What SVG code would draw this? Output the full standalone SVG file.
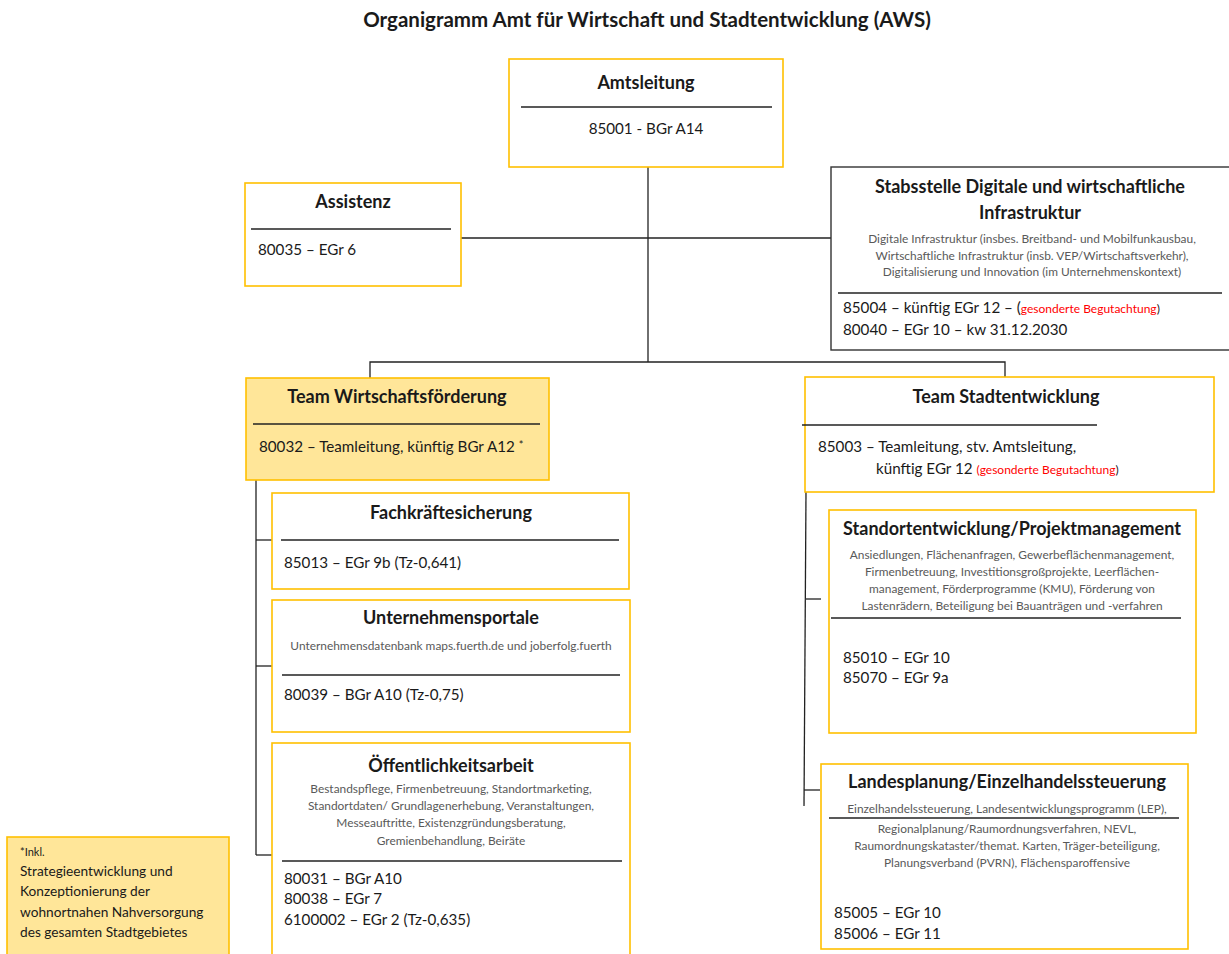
<svg xmlns="http://www.w3.org/2000/svg" width="1229" height="954" viewBox="0 0 1229 954">
<style>
text{font-family:Lato,"Open Sans","Liberation Sans",sans-serif;fill:#1a1a1a}
.ttl{font-size:20.5px;font-weight:bold;text-anchor:middle}
.hd{font-size:18px;font-weight:bold;text-anchor:middle}
.bd{font-size:15.2px}
.sm{font-size:11.9px;fill:#595959;text-anchor:middle}
.red{fill:#ff0000;font-size:12px}
.box{fill:#fff;stroke:#ffc000;stroke-width:1.6}
.boxf{fill:#ffe699;stroke:#ffc000;stroke-width:1.6}
.boxd{fill:#fff;stroke:#333;stroke-width:1.4}
.sep{stroke:#222;stroke-width:1.3}
.con{stroke:#222;stroke-width:1.3;fill:none}
</style>
<rect width="1229" height="954" fill="#fff"/>
<text class="ttl" x="647" y="27">Organigramm Amt für Wirtschaft und Stadtentwicklung (AWS)</text>

<g id="connectors">
<line class="con" x1="648" y1="167" x2="648" y2="362"/>
<line class="con" x1="461" y1="238" x2="831" y2="238"/>
<polyline class="con" points="370,378 370,362 1005,362 1005,377"/>
<line class="con" x1="256" y1="478" x2="256" y2="855"/>
<line class="con" x1="256" y1="540" x2="272" y2="540"/>
<line class="con" x1="256" y1="666" x2="272" y2="666"/>
<line class="con" x1="256" y1="855" x2="272" y2="855"/>
<line class="con" x1="806" y1="492" x2="804" y2="806"/>
<line class="con" x1="806" y1="599" x2="821" y2="599"/>
<line class="con" x1="804" y1="790" x2="820" y2="790"/>
</g>

<g id="amtsleitung">
<rect class="box" x="509" y="59" width="274" height="108"/>
<text class="hd" x="646" y="89" font-size="21">Amtsleitung</text>
<line class="sep" x1="521" y1="107" x2="772" y2="107"/>
<text class="bd" x="646" y="134" text-anchor="middle" font-size="17.5">85001 - BGr A14</text>
</g>

<g id="assistenz">
<rect class="box" x="245" y="183" width="216" height="103"/>
<text class="hd" x="353" y="208">Assistenz</text>
<line class="sep" x1="251" y1="229" x2="451" y2="229"/>
<text class="bd" x="258" y="255">80035 – EGr 6</text>
</g>

<g id="stabsstelle">
<rect class="boxd" x="831" y="167" width="402" height="183"/>
<text class="hd" x="1030" y="193">Stabsstelle Digitale und wirtschaftliche</text>
<text class="hd" x="1030" y="219">Infrastruktur</text>
<text class="sm" x="1032" y="243">Digitale Infrastruktur (insbes. Breitband- und Mobilfunkausbau,</text>
<text class="sm" x="1032" y="260">Wirtschaftliche Infrastruktur (insb. VEP/Wirtschaftsverkehr),</text>
<text class="sm" x="1032" y="276">Digitalisierung und Innovation (im Unternehmenskontext)</text>
<line class="sep" x1="838" y1="293" x2="1222" y2="293"/>
<text class="bd" x="843" y="313">85004 – künftig EGr 12 – (<tspan class="red">gesonderte Begutachtung</tspan><tspan font-size="12">)</tspan></text>
<text class="bd" x="843" y="335">80040 – EGr 10 – kw 31.12.2030</text>
</g>

<g id="team-wf">
<rect class="boxf" x="246" y="378" width="303" height="102"/>
<text class="hd" x="397" y="403" font-size="19.5">Team Wirtschaftsförderung</text>
<line class="sep" x1="253" y1="424" x2="540" y2="424"/>
<text class="bd" x="259" y="452">80032 – Teamleitung, künftig BGr A12 <tspan font-size="11" dy="-3">*</tspan></text>
</g>

<g id="fachkraefte">
<rect class="box" x="272" y="493" width="357" height="96"/>
<text class="hd" x="451" y="519">Fachkräftesicherung</text>
<line class="sep" x1="281" y1="540" x2="619" y2="540"/>
<text class="bd" x="284" y="568">85013 – EGr 9b (Tz-0,641)</text>
</g>

<g id="unternehmensportale">
<rect class="box" x="272" y="600" width="358" height="132"/>
<text class="hd" x="451" y="624">Unternehmensportale</text>
<text class="sm" x="451" y="650">Unternehmensdatenbank maps.fuerth.de und joberfolg.fuerth</text>
<line class="sep" x1="282" y1="675" x2="620" y2="675"/>
<text class="bd" x="284" y="700">80039 – BGr A10 (Tz-0,75)</text>
</g>

<g id="oeffentlichkeitsarbeit">
<rect class="box" x="272" y="743" width="358" height="215"/>
<text class="hd" x="451" y="772">Öffentlichkeitsarbeit</text>
<text class="sm" x="451" y="793">Bestandspflege, Firmenbetreuung, Standortmarketing,</text>
<text class="sm" x="451" y="810">Standortdaten/ Grundlagenerhebung, Veranstaltungen,</text>
<text class="sm" x="451" y="827">Messeauftritte, Existenzgründungsberatung,</text>
<text class="sm" x="451" y="845">Gremienbehandlung, Beiräte</text>
<line class="sep" x1="282" y1="861" x2="622" y2="861"/>
<text class="bd" x="284" y="884">80031 – BGr A10</text>
<text class="bd" x="284" y="904">80038 – EGr 7</text>
<text class="bd" x="284" y="925">6100002 – EGr 2 (Tz-0,635)</text>
</g>

<g id="fussnote">
<rect class="boxf" x="7" y="837" width="222" height="122"/>
<text x="20" y="856" font-size="11" fill="#595959">*Inkl.</text>
<text x="20" y="876" font-size="13.7">Strategieentwicklung und</text>
<text x="20" y="896" font-size="13.7">Konzeptionierung der</text>
<text x="20" y="917" font-size="13.7">wohnortnahen Nahversorgung</text>
<text x="20" y="937" font-size="13.7">des gesamten Stadtgebietes</text>
</g>

<g id="team-se">
<rect class="box" x="805" y="377" width="409" height="115"/>
<text class="hd" x="1006" y="403" font-size="19">Team Stadtentwicklung</text>
<line class="sep" x1="802" y1="425" x2="1097" y2="425"/>
<text class="bd" x="818" y="452">85003 – Teamleitung, stv. Amtsleitung,</text>
<text class="bd" x="876" y="474">künftig EGr 12 <tspan class="red">(gesonderte Begutachtung</tspan><tspan font-size="12">)</tspan></text>
</g>

<g id="standortentwicklung">
<rect class="box" x="829" y="510" width="367" height="223"/>
<text class="hd" x="1012" y="535" font-size="18.5">Standortentwicklung/Projektmanagement</text>
<text class="sm" x="1012" y="559">Ansiedlungen, Flächenanfragen, Gewerbeflächenmanagement,</text>
<text class="sm" x="1012" y="576">Firmenbetreuung, Investitionsgroßprojekte, Leerflächen-</text>
<text class="sm" x="1012" y="593">management, Förderprogramme (KMU), Förderung von</text>
<text class="sm" x="1012" y="610">Lastenrädern, Beteiligung bei Bauanträgen und -verfahren</text>
<line class="sep" x1="831" y1="618" x2="1181" y2="618"/>
<text class="bd" x="843" y="663">85010 – EGr 10</text>
<text class="bd" x="843" y="683">85070 – EGr 9a</text>
</g>

<g id="landesplanung">
<rect class="box" x="821" y="764" width="367" height="185"/>
<text class="hd" x="1007" y="788" font-size="18.5">Landesplanung/Einzelhandelssteuerung</text>
<text class="sm" x="1007" y="813">Einzelhandelssteuerung, Landesentwicklungsprogramm (LEP),</text>
<line class="sep" x1="829" y1="818" x2="1179" y2="818"/>
<text class="sm" x="1007" y="833">Regionalplanung/Raumordnungsverfahren, NEVL,</text>
<text class="sm" x="1007" y="850">Raumordnungskataster/themat. Karten, Träger-beteiligung,</text>
<text class="sm" x="1007" y="867">Planungsverband (PVRN), Flächensparoffensive</text>
<text class="bd" x="834" y="918">85005 – EGr 10</text>
<text class="bd" x="834" y="939">85006 – EGr 11</text>
</g>
</svg>
